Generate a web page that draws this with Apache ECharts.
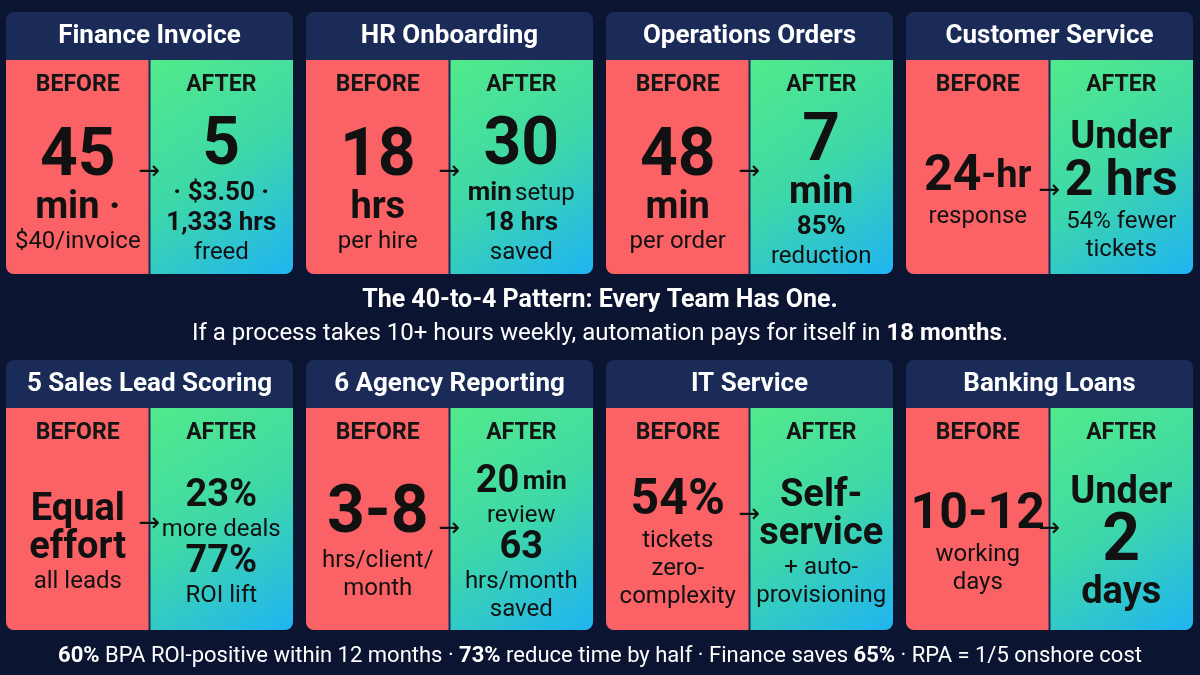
<!DOCTYPE html>
<html>
<head>
<meta charset="utf-8">
<script src="https://cdn.jsdelivr.net/npm/echarts@6/dist/echarts.min.js"></script>
<style>
  html, body { margin: 0; padding: 0; background: #0b1430; }
  #main { width: 1200px; height: 675px; }
</style>
</head>
<body>
<div id="main"></div>
<script>
// 卡片标题
var titles = ['Finance Invoice', 'HR Onboarding', 'Operations Orders', 'Customer Service',
    '5 Sales Lead Scoring', '6 Agency Reporting', 'IT Service', 'Banking Loans'];

// 每行: [文本, 样式]  h=特大 g=大粗 b=粗 s=小粗 m=常规
var beforeLines = [
    [['45', 'h'], ['min ·', 'b'], ['$40/invoice', 'm']],
    [['18', 'h'], ['hrs', 'b'], ['per hire', 'm']],
    [['48', 'h'], ['min', 'b'], ['per order', 'm']],
    [['{g|24}{b|-hr}', 'g'], ['response', 'm']],
    [['Equal', 'b'], ['effort', 'b'], ['all leads', 'm']],
    [['3-8', 'h'], ['hrs/client/', 'm'], ['month', 'm']],
    [['54%', 'g'], ['tickets', 'm'], ['zero-', 'm'], ['complexity', 'm']],
    [['10-12', 'g'], ['working', 'm'], ['days', 'm']]
];
var afterLines = [
    [['5', 'h'], ['· $3.50 ·', 's'], ['1,333 hrs', 's'], ['freed', 'm']],
    [['30', 'h'], ['{s|min} {m|setup}', 's'], ['18 hrs', 's'], ['saved', 'm']],
    [['7', 'h'], ['min', 'b'], ['85%', 's'], ['reduction', 'm']],
    [['Under', 'b'], ['2 hrs', 'g'], ['54% fewer', 'm'], ['tickets', 'm']],
    [['23%', 'b'], ['more deals', 'm'], ['77%', 'b'], ['ROI lift', 'm']],
    [['{b|20} {s|min}', 'b'], ['review', 'm'], ['63', 'b'], ['hrs/month', 'm'], ['saved', 'm']],
    [['Self-', 'b'], ['service', 'b'], ['+ auto-', 'm'], ['provisioning', 'm']],
    [['Under', 'b'], ['2', 'h'], ['days', 'b']]
];

var headline = 'The 40-to-4 Pattern: Every Team Has One.';
var subline = ['If a process takes 10+ hours weekly, automation pays for itself in ', '18 months', '.'];
var footer = [['60%', 1], [' BPA ROI-positive within 12 months · ', 0], ['73%', 1], [' reduce time by half · Finance saves ', 0], ['65%', 1], [' · RPA = 1/5 onshore cost', 0]];

(function () {
    var font = 'Roboto, sans-serif';
    var rich = {
        h: { fontSize: 66, fontWeight: 'bold', color: '#111', fontFamily: font, lineHeight: 62 },
        g: { fontSize: 50, fontWeight: 'bold', color: '#111', fontFamily: font, lineHeight: 50 },
        b: { fontSize: 38, fontWeight: 'bold', color: '#111', fontFamily: font, lineHeight: 38 },
        s: { fontSize: 26, fontWeight: 'bold', color: '#111', fontFamily: font, lineHeight: 30 },
        m: { fontSize: 24, fontWeight: 'normal', color: '#111', fontFamily: font, lineHeight: 28 }
    };
    var lh = { h: 62, g: 50, b: 38, s: 30, m: 28 };

    var cardW = 287, gap = 13, x0 = 6;
    var rows = [{ top: 12, head: 48, bottom: 274 }, { top: 360, head: 48, bottom: 630 }];
    var els = [];

    // 一列文字居中堆叠
    function stack(lines, cx, cy) {
        var total = 0;
        lines.forEach(function (l) { total += lh[l[1]]; });
        var y = cy - total / 2;
        var firstY = null;
        lines.forEach(function (l) {
            var t = l[0].indexOf('{') === 0 ? l[0] : '{' + l[1] + '|' + l[0] + '}';
            var mid = y + lh[l[1]] / 2;
            if (firstY === null) firstY = mid;
            els.push({ type: 'text', x: cx, y: mid,
                style: { text: t, rich: rich, fill: '#111', align: 'center', verticalAlign: 'middle' } });
            y += lh[l[1]];
        });
        return firstY;
    }

    for (var i = 0; i < titles.length; i++) {
        var r = rows[Math.floor(i / 4)];
        var x = x0 + (i % 4) * (cardW + gap);
        var bodyTop = r.top + r.head;
        var half = cardW / 2;
        // 标题栏
        els.push({ type: 'rect', shape: { x: x, y: r.top, width: cardW, height: r.bottom - r.top, r: 8 },
            style: { fill: '#1b2b57' } });
        els.push({ type: 'text', x: x + half, y: r.top + r.head / 2,
            style: { text: titles[i], fill: '#fff', font: 'bold 26px ' + font, align: 'center', verticalAlign: 'middle' } });
        // before / after 面板
        els.push({ type: 'rect', shape: { x: x, y: bodyTop, width: half - 1, height: r.bottom - bodyTop, r: [0, 0, 0, 8] },
            style: { fill: '#fb6266' } });
        els.push({ type: 'rect', shape: { x: x + half + 1, y: bodyTop, width: half - 1, height: r.bottom - bodyTop, r: [0, 0, 8, 0] },
            style: { fill: new echarts.graphic.LinearGradient(0, 0, 1, 1, [
                { offset: 0, color: '#52ea8a' }, { offset: 0.5, color: '#3ed8a8' }, { offset: 1, color: '#20b4f2' }]) } });
        els.push({ type: 'text', x: x + half / 2, y: bodyTop + 25,
            style: { text: 'BEFORE', fill: '#151515', font: 'bold 23px ' + font, align: 'center', verticalAlign: 'middle' } });
        els.push({ type: 'text', x: x + half * 1.5, y: bodyTop + 25,
            style: { text: 'AFTER', fill: '#151515', font: 'bold 23px ' + font, align: 'center', verticalAlign: 'middle' } });
        var cy = (bodyTop + 45 + r.bottom) / 2 + 2;
        var fy = stack(beforeLines[i], x + half / 2, cy);
        stack(afterLines[i], x + half * 1.5, cy);
        els.push({ type: 'text', x: x + half, y: fy + 14,
            style: { text: '→', fill: '#111', font: '26px DejaVu Sans', align: 'center', verticalAlign: 'middle' } });
    }

    var white = {
        n: { fontSize: 24, color: '#fff', fontFamily: font },
        bb: { fontSize: 24, color: '#fff', fontWeight: 'bold', fontFamily: font }
    };
    // 中间标语
    els.push({ type: 'text', x: 600, y: 301,
        style: { text: headline, fill: '#fff', font: 'bold 25px ' + font, align: 'center', verticalAlign: 'middle' } });
    els.push({ type: 'text', x: 600, y: 334,
        style: { text: '{n|' + subline[0] + '}{bb|' + subline[1] + '}{n|' + subline[2] + '}', fill: '#fff',
            align: 'center', verticalAlign: 'middle', rich: white } });
    // 底部脚注
    els.push({ type: 'text', x: 600, y: 656,
        style: { text: footer.map(function (f) { return '{' + (f[1] ? 'bb' : 'n') + '|' + f[0] + '}'; }).join(''),
            fill: '#fff', align: 'center', verticalAlign: 'middle',
            rich: { n: { fontSize: 22, color: '#fff', fontFamily: font }, bb: { fontSize: 22, color: '#fff', fontWeight: 'bold', fontFamily: font } } } });

    var myChart = echarts.init(document.getElementById('main'));
    myChart.setOption({ backgroundColor: '#0b1430', graphic: { elements: els } });
    window.addEventListener('resize', function () { myChart.resize(); });
})();
</script>
</body>
</html>
